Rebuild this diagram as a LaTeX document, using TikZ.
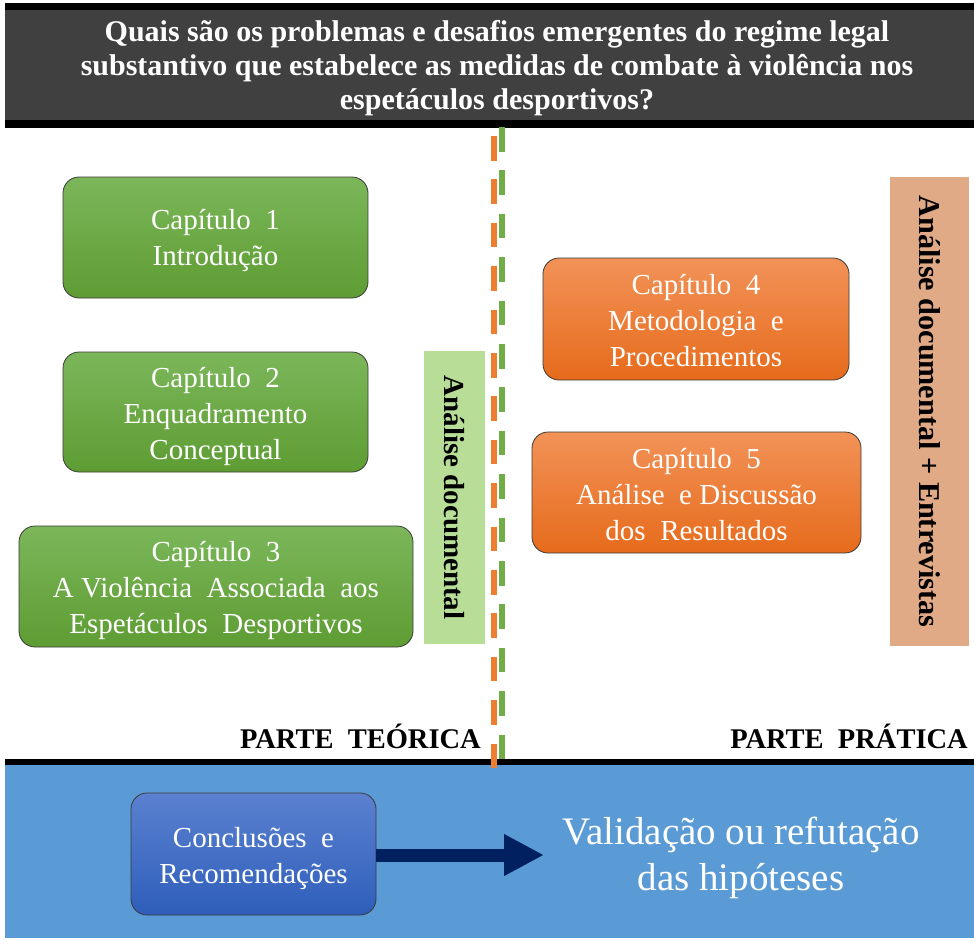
\documentclass[tikz,border=0pt]{standalone}
\usepackage{fontspec}
\setmainfont{Liberation Serif}
\usetikzlibrary{arrows.meta}
\definecolor{titlegray}{HTML}{404040}
\definecolor{gtop}{HTML}{7BB75A}
\definecolor{gbot}{HTML}{5E9C33}
\definecolor{otop}{HTML}{F29258}
\definecolor{obot}{HTML}{E66B1B}
\definecolor{btop}{HTML}{5B81D0}
\definecolor{bbot}{HTML}{2E5EBA}
\definecolor{bandblue}{HTML}{5B9BD5}
\definecolor{lightgreen}{HTML}{B7DD97}
\definecolor{tan}{HTML}{E1AA87}
\definecolor{navy}{HTML}{002060}
\definecolor{dashorange}{HTML}{ED7D31}
\definecolor{dashgreen}{HTML}{70AD47}
\definecolor{edge}{HTML}{3A3A3A}
\tikzset{
  chapbox/.style={draw=edge, line width=0.8pt, rounded corners=16pt, inner sep=0pt},
  greenbox/.style={chapbox, top color=gtop, bottom color=gbot},
  orangebox/.style={chapbox, top color=otop, bottom color=obot},
  bluebox/.style={chapbox, top color=btop, bottom color=bbot},
  chaptext/.style={font=\fontsize{29}{36}\selectfont, text=white, align=center, inner sep=0pt},
  sidelabel/.style={font=\bfseries\fontsize{29}{34}\selectfont, text=black, rotate=-90, inner sep=0pt},
  partlabel/.style={font=\bfseries\fontsize{28.5}{34}\selectfont, text=black, inner sep=0pt},
  dashline/.style={line width=6pt, dash pattern=on 24.5pt off 18.9pt},
}
\begin{document}
\begin{tikzpicture}[x=1pt,y=-1pt]
\useasboundingbox (0,0) rectangle (974,940);
% title band
\fill[black] (5,3) rectangle (974,128);
\fill[titlegray] (5,10) rectangle (974,120);
\node[font=\bfseries\fontsize{30}{34}\selectfont, text=white, align=center, inner sep=0pt] (title) at (497,68)
  {Quais são os problemas e desafios emergentes do regime legal\\
   substantivo que estabelece as medidas de combate à violência nos\\
   espetáculos desportivos?};
% bottom band
\fill[bandblue] (5,765) rectangle (974,938);
\fill[black] (5,759) rectangle (974,765);
% dashed divider
\coordinate (ot) at (494,136);
\coordinate (ob) at (494,768);
\coordinate (gt) at (502,127);
\coordinate (gb) at (502,759);
\draw[dashorange, dashline] (ot) -- (ob);
\draw[dashgreen, dashline] (gt) -- (gb);
% green chapters
\node[greenbox, minimum width=305pt, minimum height=121pt] (c1) at (215.5,237.5) {};
\node[chaptext] (c1t) at ([yshift=-3pt]c1.center) {Capítulo~ 1\\Introdução};
\node[greenbox, minimum width=305pt, minimum height=120pt] (c2) at (215.5,412) {};
\node[chaptext] (c2t) at ([yshift=-4pt]c2.center) {Capítulo~ 2\\Enquadramento\\Conceptual};
\node[greenbox, minimum width=394pt, minimum height=121pt] (c3) at (216,586.5) {};
\node[chaptext] (c3t) at ([yshift=-4pt]c3.center) {Capítulo~ 3\\A Violência~ Associada~ aos\\Espetáculos~ Desportivos};
% orange chapters
\node[orangebox, minimum width=306pt, minimum height=122pt] (c4) at (696,319) {};
\node[chaptext] (c4t) at ([yshift=-1.5pt]c4.center) {Capítulo~ 4\\Metodologia~ e\\Procedimentos};
\node[orangebox, minimum width=329pt, minimum height=121pt] (c5) at (696.5,492.5) {};
\node[chaptext] (c5t) at ([yshift=-2pt]c5.center) {Capítulo~ 5\\Análise~ e Discussão\\dos~ Resultados};
% side labels
\node[fill=lightgreen, minimum width=61pt, minimum height=293pt, inner sep=0pt] (lg) at (454.5,497.5) {};
\node[sidelabel] (lgt) at (lg.center) {Análise documental};
\node[fill=tan, minimum width=79pt, minimum height=469pt, inner sep=0pt] (lt) at (929.5,411.5) {};
\node[sidelabel, font=\bfseries\fontsize{30.2}{34}\selectfont] (ltt) at (lt.center) {Análise documental + Entrevistas};
% part labels
\node[partlabel, anchor=base east] (pt) at (481,748) {PARTE~ TEÓRICA};
\node[partlabel, anchor=base east] (pp) at (968,748) {PARTE~ PRÁTICA};
% conclusions
\node[bluebox, minimum width=245pt, minimum height=122pt] (cb) at (253.5,854) {};
\node[chaptext] (cbt) at ([yshift=-5pt]cb.center) {Conclusões~ e\\Recomendações};
\node[font=\fontsize{39}{46}\selectfont, text=white, align=center, inner sep=0pt] (val) at (741,858) {Validação ou refutação\\das hipóteses};
\coordinate (tip) at (544,855);
\draw[navy, line width=13pt, -{Triangle[length=40pt 0 0, width=39pt 0 0]}] (cb.east |- tip) -- (tip);
\end{tikzpicture}
\end{document}
